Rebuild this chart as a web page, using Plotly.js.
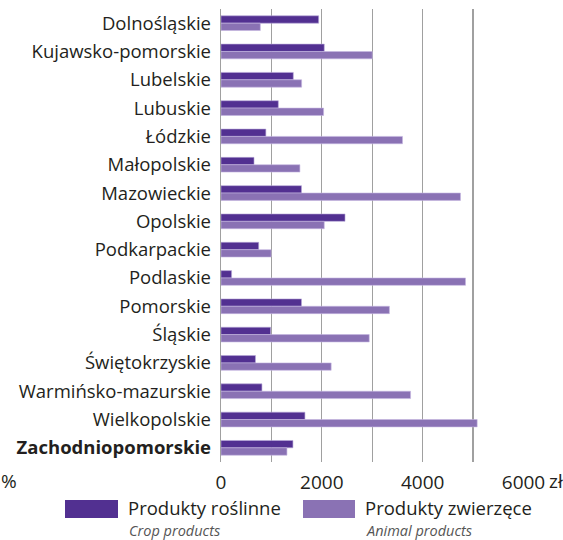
<!DOCTYPE html>
<html>
<head>
<meta charset="utf-8">
<script src="https://cdn.plot.ly/plotly-3.0.1.min.js"></script>
<style>
  html, body { margin: 0; padding: 0; background: #fff; }
  #plot { width: 563px; height: 540px; }
</style>
</head>
<body>
<div id="plot"></div>
<script>
var regions = ["Dolnośląskie", "Kujawsko-pomorskie", "Lubelskie", "Lubuskie", "Łódzkie",
  "Małopolskie", "Mazowieckie", "Opolskie", "Podkarpackie", "Podlaskie", "Pomorskie",
  "Śląskie", "Świętokrzyskie", "Warmińsko-mazurskie", "Wielkopolskie", "Zachodniopomorskie"]

var regionLabels = regions.map(r => r == "Zachodniopomorskie" ? "<b>" + r + "</b>" : r)

var cropValues = [1937, 2048, 1434, 1137, 890, 655, 1597, 2460, 748, 210, 1597, 985, 684, 812, 1665, 1427]
var animalValues = [780, 3000, 1599, 2035, 3600, 1565, 4750, 2048, 995, 4850, 3340, 2940, 2185, 3760, 5081, 1308]

var xTicks = [0, 1000, 2000, 3000, 4000, 5000, 6000]
var xTickLabels = ["0", "", "2000", "", "4000", "", "6000"]

var cropColor = "#523091"
var animalColor = "#8a72b4"
var font = "Open Sans, Noto Sans, sans-serif"

// plot area in pixels, used to place the hand made legend
var L = 221, R = 524, T = 9, B = 462
function px(x) { return (x - L) / (R - L) }
function py(y) { return (B - y) / (B - T) }

var crop = {
  y: regions,
  x: cropValues,
  name: "Produkty roślinne",
  type: "bar",
  orientation: "h",
  marker: {color: cropColor, line: {color: "#b9a9d8", width: 0.6}},
  hoverinfo: "x+y"
}

var animal = {
  y: regions,
  x: animalValues,
  name: "Produkty zwierzęce",
  type: "bar",
  orientation: "h",
  marker: {color: animalColor, line: {color: "#c4b6e0", width: 0.6}},
  hoverinfo: "x+y"
}

var legendItems = [
  {x0: 65, x1: 118, color: cropColor, text: "Produkty roślinne", sub: "Crop products", tx: 127},
  {x0: 303, x1: 355, color: animalColor, text: "Produkty zwierzęce", sub: "Animal products", tx: 364}
]

var shapes = legendItems.map(it => ({
  type: "rect", xref: "paper", yref: "paper",
  x0: px(it.x0), x1: px(it.x1), y0: py(518), y1: py(500),
  fillcolor: it.color, line: {width: 0}
}))

var annotations = []
legendItems.forEach(it => {
  annotations.push({xref: "paper", yref: "paper", x: px(it.tx), y: py(507),
    xanchor: "left", yanchor: "middle", showarrow: false, text: it.text, borderpad: 0,
    font: {family: font, size: 18.5, color: "#231f20"}})
  annotations.push({xref: "paper", yref: "paper", x: px(it.tx + 1), y: py(530),
    xanchor: "left", yanchor: "middle", showarrow: false, text: "<i>" + it.sub + "</i>", borderpad: 0,
    font: {family: font, size: 14.5, color: "#555"}})
})
annotations.push({xref: "x", yref: "paper", x: 6000, xshift: 23, y: py(481),
  xanchor: "left", yanchor: "middle", showarrow: false, text: "zł",
  font: {family: font, size: 19, color: "#231f20"}})
annotations.push({xref: "paper", yref: "paper", x: px(0), y: py(481),
  xanchor: "left", yanchor: "middle", showarrow: false, text: "%", borderpad: 0,
  font: {family: font, size: 19, color: "#231f20"}})

var layout = {
  width: 563,
  height: 540,
  margin: {l: L, r: 563 - R, t: T, b: 540 - B},
  paper_bgcolor: "#fff",
  plot_bgcolor: "#fff",
  showlegend: false,
  barmode: "group",
  bargap: 0.48,
  bargroupgap: 0,
  font: {family: font, color: "#231f20"},
  xaxis: {
    range: [0, 6010],
    tickmode: "array",
    tickvals: xTicks,
    ticktext: xTickLabels,
    showgrid: true,
    gridcolor: "#a0a0a0",
    gridwidth: 1.3,
    zeroline: false,
    showline: false,
    ticks: "",
    ticklabelstandoff: 7,
    tickfont: {family: font, size: 19, color: "#231f20"}
  },
  yaxis: {
    autorange: "reversed",
    tickmode: "array",
    tickvals: regions,
    ticktext: regionLabels,
    showgrid: false,
    zeroline: false,
    showline: true,
    linecolor: "#a0a0a0",
    linewidth: 1.3,
    ticks: "",
    ticklabelstandoff: 5,
    tickfont: {family: font, size: 18.5, color: "#231f20"}
  },
  shapes: shapes,
  annotations: annotations
}

Plotly.newPlot("plot", [crop, animal], layout, {displayModeBar: false, staticPlot: true})
</script>
</body>
</html>
